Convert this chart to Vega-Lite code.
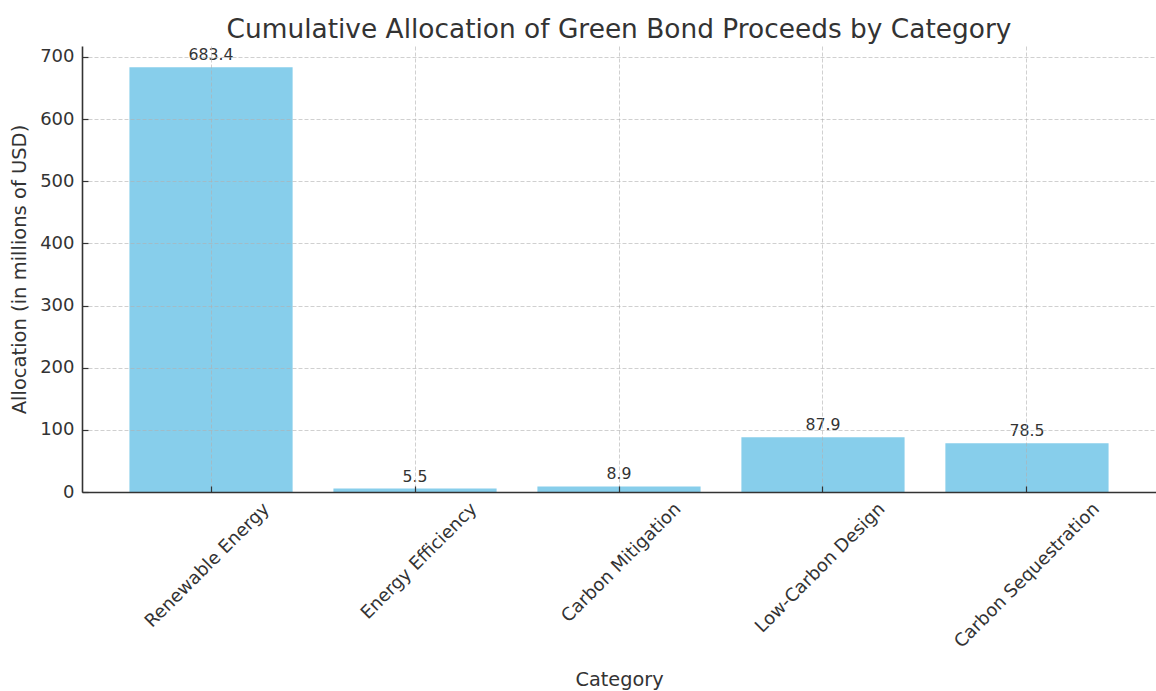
{
  "$schema": "https://vega.github.io/schema/vega-lite/v6.json",
  "width": 1074,
  "height": 446,
  "autosize": {"type": "none"},
  "padding": {"left": 82, "top": 46, "right": 0, "bottom": 199},
  "background": "white",
  "title": {
    "text": "Cumulative Allocation of Green Bond Proceeds by Category",
    "font": "DejaVu Sans",
    "fontSize": 26.4,
    "fontWeight": "normal",
    "color": "#333333",
    "anchor": "middle",
    "baseline": "alphabetic",
    "offset": 9,
    "dy": 27
  },
  "config": {
    "view": {"stroke": null},
    "font": "DejaVu Sans"
  },
  "data": {
    "values": [
      {"Category": "Renewable Energy", "Allocation": 683.4},
      {"Category": "Energy Efficiency", "Allocation": 5.5},
      {"Category": "Carbon Mitigation", "Allocation": 8.9},
      {"Category": "Low-Carbon Design", "Allocation": 87.9},
      {"Category": "Carbon Sequestration", "Allocation": 78.5}
    ]
  },
  "encoding": {
    "x": {
      "field": "Category",
      "type": "nominal",
      "sort": null,
      "scale": {"paddingInner": 0.2, "paddingOuter": 0.2325},
      "axis": {
        "title": "Category",
        "titleFont": "DejaVu Sans",
        "titleFontSize": 19.3,
        "titleFontWeight": "normal",
        "titleColor": "#333333",
        "titlePadding": 19,
        "labelFont": "DejaVu Sans",
        "labelFontSize": 18,
        "labelColor": "#333333",
        "labelAngle": -45,
        "labelAlign": "right",
        "labelBaseline": "middle",
        "labelPadding": 20,
        "labelOverlap": false,
        "labelBound": false,
        "labelLimit": 0,
        "labelOffset": {"expr": "0.354 * 9.85 * length(datum.label)"},
        "tickSize": -6,
        "tickColor": "#333333",
        "tickWidth": 1.2,
        "domainColor": "#333333",
        "domainWidth": 1.6,
        "grid": true,
        "gridColor": "#b0b0b0",
        "gridOpacity": 0.6,
        "gridDash": [4, 2],
        "gridWidth": 1,
        "zindex": 1
      }
    },
    "y": {
      "field": "Allocation",
      "type": "quantitative",
      "scale": {"domain": [0, 717.6], "nice": false, "zero": true},
      "axis": {
        "title": "Allocation (in millions of USD)",
        "titleFont": "DejaVu Sans",
        "titleFontSize": 19.5,
        "titleFontWeight": "normal",
        "titleColor": "#333333",
        "titlePadding": 10,
        "values": [0, 100, 200, 300, 400, 500, 600, 700],
        "labelFont": "DejaVu Sans",
        "labelFontSize": 18,
        "labelColor": "#333333",
        "labelPadding": 14,
        "tickSize": -6,
        "tickColor": "#333333",
        "tickWidth": 1.2,
        "domainColor": "#333333",
        "domainWidth": 1.6,
        "grid": true,
        "gridColor": "#b0b0b0",
        "gridOpacity": 0.6,
        "gridDash": [4, 2],
        "gridWidth": 1,
        "zindex": 1
      }
    }
  },
  "layer": [
    {
      "mark": {"type": "bar", "color": "#87ceeb"}
    },
    {
      "mark": {
        "type": "text",
        "font": "DejaVu Sans",
        "fontSize": 15.7,
        "color": "#333333",
        "align": "center",
        "baseline": "alphabetic",
        "dy": -7
      },
      "encoding": {
        "text": {"field": "Allocation", "type": "quantitative", "format": ".1f"}
      }
    }
  ]
}
